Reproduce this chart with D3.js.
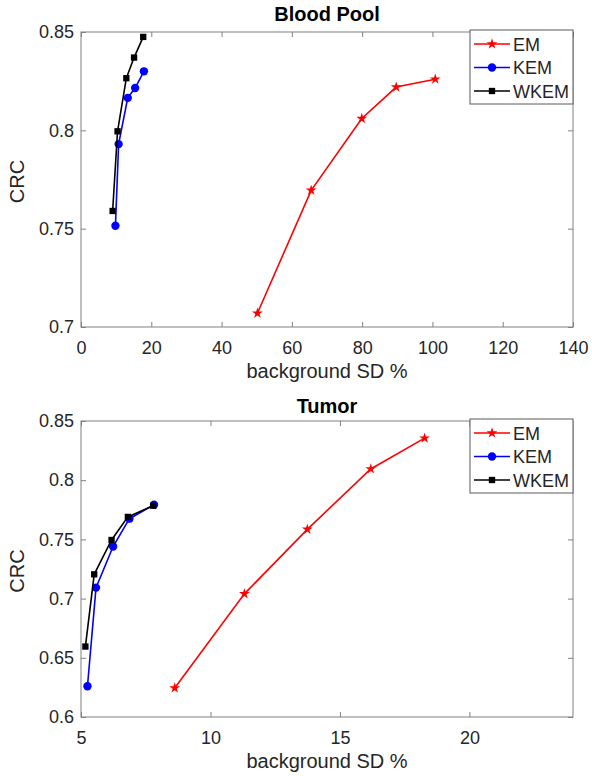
<!DOCTYPE html>
<html>
<head>
<meta charset="utf-8">
<script src="https://cdn.jsdelivr.net/npm/d3@7"></script>
<style>
  body { margin: 0; background: #fff; }
  svg { display: block; font-family: "Liberation Sans", Arial, Helvetica, sans-serif; }
</style>
</head>
<body>
<svg width="592" height="776"></svg>
<script>
// series names + styles for the legend
const methods = ["EM", "KEM", "WKEM"];
const colors = ["#ff0000", "#0000ff", "#000000"];
const shapes = [d3.symbolStar, d3.symbolCircle, d3.symbolSquare];
const sizes = [36, 55, 40];

// Blood Pool panel
const poolXTicks = [0, 20, 40, 60, 80, 100, 120, 140];
const poolYTicks = [0.7, 0.75, 0.8, 0.85];
const poolEMx = [50.2, 65.5, 79.9, 89.7, 100.8];
const poolEMy = [0.707, 0.7695, 0.806, 0.822, 0.826];
const poolKEMx = [9.8, 10.7, 13.3, 15.4, 17.9];
const poolKEMy = [0.7515, 0.793, 0.8165, 0.8215, 0.830];
const poolWKEMx = [9.0, 10.4, 12.9, 15.1, 17.7];
const poolWKEMy = [0.759, 0.7995, 0.8265, 0.837, 0.8475];

// Tumor panel
const tumorXTicks = [5, 10, 15, 20];
const tumorYTicks = [0.6, 0.65, 0.7, 0.75, 0.8, 0.85];
const tumorEMx = [8.62, 11.31, 13.74, 16.19, 18.27];
const tumorEMy = [0.6245, 0.704, 0.7585, 0.8095, 0.8355];
const tumorKEMx = [5.25, 5.58, 6.24, 6.87, 7.82];
const tumorKEMy = [0.626, 0.7093, 0.744, 0.7675, 0.7793];
const tumorWKEMx = [5.17, 5.51, 6.18, 6.81, 7.79];
const tumorWKEMy = [0.6595, 0.7205, 0.7495, 0.769, 0.7785];

const svg = d3.select("svg");
const axisColor = "#808080";
const textColor = "#262626";

const panels = [
  {
    title: "Blood Pool", top: 32, bottom: 327, titleY: 21,
    xDomain: [0, 140], xTicks: poolXTicks,
    yDomain: [0.7, 0.85], yTicks: poolYTicks,
    series: [[poolEMx, poolEMy], [poolKEMx, poolKEMy], [poolWKEMx, poolWKEMy]],
    legendTop: 30
  },
  {
    title: "Tumor", top: 421, bottom: 717, titleY: 413,
    xDomain: [5, 24], xTicks: tumorXTicks,
    yDomain: [0.6, 0.85], yTicks: tumorYTicks,
    series: [[tumorEMx, tumorEMy], [tumorKEMx, tumorKEMy], [tumorWKEMx, tumorWKEMy]],
    legendTop: 419
  }
];

const left = 81, right = 573;

panels.forEach(p => {
  const x = d3.scaleLinear().domain(p.xDomain).range([left, right]);
  const y = d3.scaleLinear().domain(p.yDomain).range([p.bottom, p.top]);
  const g = svg.append("g");

  // axes box
  g.append("rect")
    .attr("x", left).attr("y", p.top)
    .attr("width", right - left).attr("height", p.bottom - p.top)
    .attr("fill", "none").attr("stroke", axisColor);

  const fmt = d => String(d);

  const xb = g.append("g").attr("transform", `translate(0,${p.bottom})`)
    .call(d3.axisBottom(x).tickValues(p.xTicks).tickSizeInner(-5).tickSizeOuter(0).tickPadding(14).tickFormat(fmt));
  const xt = g.append("g").attr("transform", `translate(0,${p.top})`)
    .call(d3.axisTop(x).tickValues(p.xTicks).tickSizeInner(-5).tickSizeOuter(0).tickFormat(""));
  const yl = g.append("g").attr("transform", `translate(${left},0)`)
    .call(d3.axisLeft(y).tickValues(p.yTicks).tickSizeInner(-5).tickSizeOuter(0).tickPadding(7).tickFormat(fmt));
  const yr = g.append("g").attr("transform", `translate(${right},0)`)
    .call(d3.axisRight(y).tickValues(p.yTicks).tickSizeInner(-5).tickSizeOuter(0).tickFormat(""));

  [xb, xt, yl, yr].forEach(a => {
    a.select(".domain").remove();
    a.selectAll(".tick line").attr("stroke", axisColor);
    a.selectAll(".tick text").attr("fill", textColor).style("font-size", "18px")
      .style("font-family", "'Liberation Sans', Arial, sans-serif");
  });

  // titles and labels
  g.append("text").attr("x", (left + right) / 2).attr("y", p.titleY)
    .attr("text-anchor", "middle").style("font-size", "20px").style("font-weight", "bold")
    .attr("fill", "#000").text(p.title);
  g.append("text").attr("x", (left + right) / 2).attr("y", p.bottom + 51)
    .attr("text-anchor", "middle").style("font-size", "20px").attr("fill", textColor)
    .text("background SD %");
  g.append("text")
    .attr("transform", `translate(24,${(p.top + p.bottom) / 2 + 2}) rotate(-90)`)
    .attr("text-anchor", "middle").style("font-size", "20px").attr("fill", textColor)
    .text("CRC");

  // series
  const line = d3.line().x(d => x(d[0])).y(d => y(d[1]));
  p.series.forEach((s, i) => {
    const pts = s[0].map((v, k) => [v, s[1][k]]);
    g.append("path").datum(pts)
      .attr("d", line).attr("fill", "none")
      .attr("stroke", colors[i]).attr("stroke-width", 1.6);
    g.selectAll(null).data(pts).enter().append("path")
      .attr("transform", d => `translate(${x(d[0])},${y(d[1])})`)
      .attr("d", d3.symbol().type(shapes[i]).size(sizes[i]))
      .attr("fill", colors[i]);
  });

  // legend
  const lg = g.append("g");
  lg.append("rect")
    .attr("x", 470).attr("y", p.legendTop)
    .attr("width", right - 470).attr("height", 74)
    .attr("fill", "#fff").attr("stroke", "#5a5a5a");
  methods.forEach((m, i) => {
    const ly = p.legendTop + 14 + i * 23.5;
    lg.append("line").attr("x1", 474).attr("x2", 510).attr("y1", ly).attr("y2", ly)
      .attr("stroke", colors[i]).attr("stroke-width", 1.6);
    lg.append("path").attr("transform", `translate(492,${ly})`)
      .attr("d", d3.symbol().type(shapes[i]).size(sizes[i]))
      .attr("fill", colors[i]);
    lg.append("text").attr("x", 513).attr("y", ly + 6.5)
      .style("font-size", "18px").attr("fill", textColor).text(m);
  });
});
</script>
</body>
</html>
